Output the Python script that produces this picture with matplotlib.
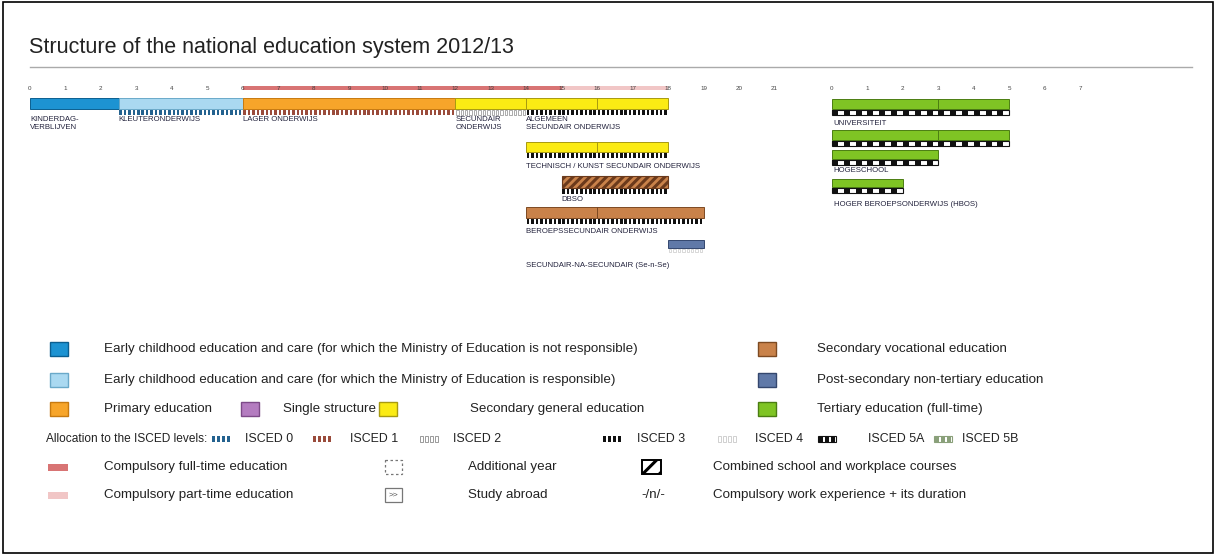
import matplotlib.pyplot as plt
from matplotlib.patches import Rectangle
import numpy as np

plt.rcParams['font.family'] = ['Liberation Sans', 'DejaVu Sans']
plt.rcParams['hatch.linewidth'] = 2.2

# ---------------- data ----------------
title = "Structure of the national education system 2012/13"
ages = list(range(22))
tert_years = list(range(8))

# programmes on the age scale
prog_labels = ["KINDERDAG-\nVERBLIJVEN", "KLEUTERONDERWIJS", "LAGER ONDERWIJS",
               "SECUNDAIR\nONDERWIJS", "ALGEMEEN\nSECUNDAIR ONDERWIJS",
               "TECHNISCH / KUNST SECUNDAIR ONDERWIJS", "DBSO",
               "BEROEPSSECUNDAIR ONDERWIJS", "SECUNDAIR-NA-SECUNDAIR (Se-n-Se)"]
prog_start = [0, 2.5, 6, 12, 14, 14, 15, 14, 18]
prog_end = [2.5, 6, 12, 14, 18, 18, 18, 19, 19]
prog_kind = ["ecec_not", "ecec_resp", "primary", "secgen", "secgen",
             "secgen", "secvoc", "secvoc", "postsec"]
prog_isced = [None, "0", "1", "2", "3", "3", "3", "3", "4"]
prog_split = [[], [], [], [], [16], [16], [], [16], []]
prog_label_age = [0, 2.5, 6, 12, 14, 14, 15, 14, 14]
prog_hatched = [False, False, False, False, False, False, True, False, False]

# tertiary programmes (years of study)
tert_labels = ["UNIVERSITEIT", "", "HOGESCHOOL", "HOGER BEROEPSONDERWIJS (HBOS)"]
tert_start = [0, 0, 0, 0]
tert_end = [5, 5, 3, 2]
tert_split = [[3], [3], [], []]
tert_isced = ["5A", "5A", "5A", "5A"]

# compulsory education (ages)
comp_full = [6, 15]
comp_part = [15, 18]

# legend
legend_col1 = ["Early childhood education and care (for which the Ministry of Education is not responsible)",
               "Early childhood education and care (for which the Ministry of Education is responsible)",
               "Primary education"]
legend_col1_kind = ["ecec_not", "ecec_resp", "primary"]
legend_col2 = ["Secondary vocational education", "Post-secondary non-tertiary education",
               "Tertiary education (full-time)"]
legend_col2_kind = ["secvoc", "postsec", "tertiary"]
isced_levels = ["0", "1", "2", "3", "4", "5A", "5B"]
isced_names = ["ISCED 0", "ISCED 1", "ISCED 2", "ISCED 3", "ISCED 4", "ISCED 5A", "ISCED 5B"]

colors = {
    "ecec_not": "#1d93d2", "ecec_resp": "#aad9f1", "primary": "#f7a52a",
    "single": "#b47cc0", "secgen": "#fbeb14", "secvoc": "#c9824a",
    "postsec": "#6079a8", "tertiary": "#7fc424",
    "full": "#d87474", "part": "#f1c6c6",
}
edges = {
    "ecec_not": "#0b5f90", "ecec_resp": "#6aa9c9", "primary": "#c77a10",
    "single": "#7d4a88", "secgen": "#a89a10", "secvoc": "#7d4a22",
    "postsec": "#34476e", "tertiary": "#4b7d12",
}
isced_col = {"0": "#24628f", "1": "#9a4b3b", "2": "#8a8a8a", "3": "#111111",
             "4": "#c9c9c9", "5A": "#111111", "5B": "#8aa07a"}

# ---------------- layout ----------------
W, H = 1216, 555
PX_YEAR = 35.45
X0 = 30
TERT_OFF = (832 - X0) / PX_YEAR
row_top = [98, 98, 98, 98, 98, 142, 176, 207, 240]
row_h = [11, 11, 11, 11, 11, 10, 12, 11, 8]
label_top = [116, 116, 116, 116, 116, 163, 196, 228, 262]
tert_top = [99, 130, 150, 179]
tert_h = [10, 10, 9, 8]
tert_label_top = [120, None, 167, 201]

fig = plt.figure(figsize=(W / 100, H / 100), dpi=100)
ax = fig.add_axes([0, 0, 1, 1])
ax.set_xlim(0, W)
ax.set_ylim(H, 0)
ax.axis('off')

sx = fig.add_axes([0, 0, 1, 1])
sx.set_xlim(-X0 / PX_YEAR, (W - X0) / PX_YEAR)
sx.set_ylim(H, 0)
sx.axis('off')
sx.patch.set_alpha(0)

# frame
ax.add_patch(Rectangle((3, 2), W - 6, H - 4, fill=False, ec='black', lw=1.2))

# title and rule
ax.text(29, 47, title, fontsize=15.5, va='center', ha='left', color='#222222')
ax.plot([30, 1192], [67, 67], color='#aaaaaa', lw=1)


def isced_row(axis, start, end, top, level, h=5, step=0.125):
    if level in ("5A", "5B"):
        axis.bar(start, h, width=end - start, bottom=top, align='edge',
                 color='white', edgecolor=isced_col[level], lw=0.8)
        xs = np.arange(start, end - 0.01, 1 / 3)
        axis.bar(xs, h, width=0.17, bottom=top, align='edge',
                 color=isced_col[level], lw=0)
        return
    xs = np.arange(start, end - 0.01, step)
    if level == "2" or level == "4":
        axis.bar(xs + 0.02, h, width=0.07, bottom=top, align='edge',
                 color='white', edgecolor=isced_col[level], lw=0.5)
    else:
        axis.bar(xs + 0.02, h, width=0.07, bottom=top, align='edge',
                 color=isced_col[level], lw=0)


# compulsory education band
sx.bar(comp_full[0], 4, width=comp_full[1] - comp_full[0], bottom=86, align='edge',
       color=colors["full"], lw=0)
sx.bar(comp_part[0], 4, width=comp_part[1] - comp_part[0], bottom=86, align='edge',
       color=colors["part"], lw=0)

# age ticks
for a in ages:
    sx.text(a, 88, str(a), fontsize=4.5, ha='center', va='center', color='#444444')
for t in tert_years:
    sx.text(TERT_OFF + t, 88, str(t), fontsize=4.5, ha='center', va='center', color='#444444')

# programmes
for i in range(len(prog_labels)):
    k = prog_kind[i]
    w = prog_end[i] - prog_start[i]
    if prog_hatched[i]:
        sx.bar(prog_start[i], row_h[i], width=w, bottom=row_top[i], align='edge',
               color=colors[k], edgecolor='#6b3a1c', hatch='////', lw=0.8)
    else:
        sx.bar(prog_start[i], row_h[i], width=w, bottom=row_top[i], align='edge',
               color=colors[k], edgecolor=edges[k], lw=0.7)
    for s in prog_split[i]:
        sx.plot([s, s], [row_top[i], row_top[i] + row_h[i]], color=edges[k], lw=0.7)
    if prog_isced[i] is not None:
        h_t = 3 if prog_isced[i] == "4" else 5
        isced_row(sx, prog_start[i], prog_end[i], row_top[i] + row_h[i] + 0.5,
                  prog_isced[i], h=h_t)
    sx.text(prog_label_age[i], label_top[i], prog_labels[i], fontsize=5.6,
            va='top', ha='left', color='#23233d', linespacing=1.15)

for i in range(len(tert_labels)):
    s0 = TERT_OFF + tert_start[i]
    w = tert_end[i] - tert_start[i]
    sx.bar(s0, tert_h[i], width=w, bottom=tert_top[i], align='edge',
           color=colors["tertiary"], edgecolor=edges["tertiary"], lw=0.7)
    for s in tert_split[i]:
        sx.plot([TERT_OFF + s] * 2, [tert_top[i], tert_top[i] + tert_h[i]],
                color=edges["tertiary"], lw=0.7)
    isced_row(sx, s0, s0 + w, tert_top[i] + tert_h[i] + 0.5, tert_isced[i], h=5)
    if tert_label_top[i] is not None:
        sx.text(s0 + 0.05, tert_label_top[i], tert_labels[i], fontsize=5.6,
                va='top', ha='left', color='#23233d')

# ---------------- legend ----------------
leg_y = [349, 380, 409, 439, 467, 495]
fs = 9.6


def swatch(x, y, kind):
    ax.add_patch(Rectangle((x, y - 7), 18, 14, fc=colors[kind],
                           ec=edges.get(kind, '#555555'), lw=1))


for j in range(3):
    swatch(50, leg_y[j], legend_col1_kind[j])
    ax.text(104, leg_y[j], legend_col1[j], fontsize=fs, va='center', color='#222222')
    swatch(758, leg_y[j], legend_col2_kind[j])
    ax.text(817, leg_y[j], legend_col2[j], fontsize=fs, va='center', color='#222222')

swatch(241, leg_y[2], "single")
ax.text(283, leg_y[2], "Single structure", fontsize=fs, va='center', color='#222222')
swatch(379, leg_y[2], "secgen")
ax.text(470, leg_y[2], "Secondary general education", fontsize=fs, va='center', color='#222222')

# ISCED row
ax.text(46, leg_y[3], "Allocation to the ISCED levels:", fontsize=8.6, va='center',
        color='#222222')
pat_x = [212, 313, 420, 603, 718, 818, 934]
txt_x = [245, 350, 453, 637, 755, 868, 962]
for j, lev in enumerate(isced_levels):
    if lev in ("5A", "5B"):
        ax.add_patch(Rectangle((pat_x[j], leg_y[3] - 3), 18, 6, fc='white',
                               ec=isced_col[lev], lw=0.8))
        for b in range(3):
            ax.add_patch(Rectangle((pat_x[j] + 1 + b * 6, leg_y[3] - 3), 3.5, 6,
                                   fc=isced_col[lev], lw=0))
    else:
        for b in range(4):
            if lev in ("2", "4"):
                ax.add_patch(Rectangle((pat_x[j] + b * 5, leg_y[3] - 3), 2.5, 6,
                                       fc='white', ec=isced_col[lev], lw=0.6))
            else:
                ax.add_patch(Rectangle((pat_x[j] + b * 5, leg_y[3] - 3), 2.5, 6,
                                       fc=isced_col[lev], lw=0))
    ax.text(txt_x[j], leg_y[3], isced_names[j], fontsize=8.9, va='center', color='#222222')

# compulsory rows
ax.add_patch(Rectangle((48, leg_y[4] - 3.5), 20, 7, fc=colors["full"], lw=0))
ax.text(104, leg_y[4], "Compulsory full-time education", fontsize=fs, va='center',
        color='#222222')
ax.add_patch(Rectangle((48, leg_y[5] - 3.5), 20, 7, fc=colors["part"], lw=0))
ax.text(104, leg_y[5], "Compulsory part-time education", fontsize=fs, va='center',
        color='#222222')

ax.add_patch(Rectangle((385, leg_y[4] - 7), 17, 14, fill=False, ec='#777777',
                       lw=0.9, ls=(0, (2, 2))))
ax.text(468, leg_y[4], "Additional year", fontsize=fs, va='center', color='#222222')
ax.add_patch(Rectangle((385, leg_y[5] - 7), 17, 14, fill=False, ec='#777777', lw=0.9))
ax.text(393.5, leg_y[5], ">>", fontsize=6, va='center', ha='center', color='#555555')
ax.text(468, leg_y[5], "Study abroad", fontsize=fs, va='center', color='#222222')

ax.add_patch(Rectangle((642, leg_y[4] - 7), 19, 14, fc='white', ec='black',
                       lw=1.4, hatch='//'))
ax.text(713, leg_y[4], "Combined school and workplace courses", fontsize=fs,
        va='center', color='#222222')
ax.text(641, leg_y[5], "-/n/-", fontsize=fs, va='center', color='#222222')
ax.text(713, leg_y[5], "Compulsory work experience + its duration", fontsize=fs,
        va='center', color='#222222')

fig.savefig("out.png", dpi=100)
